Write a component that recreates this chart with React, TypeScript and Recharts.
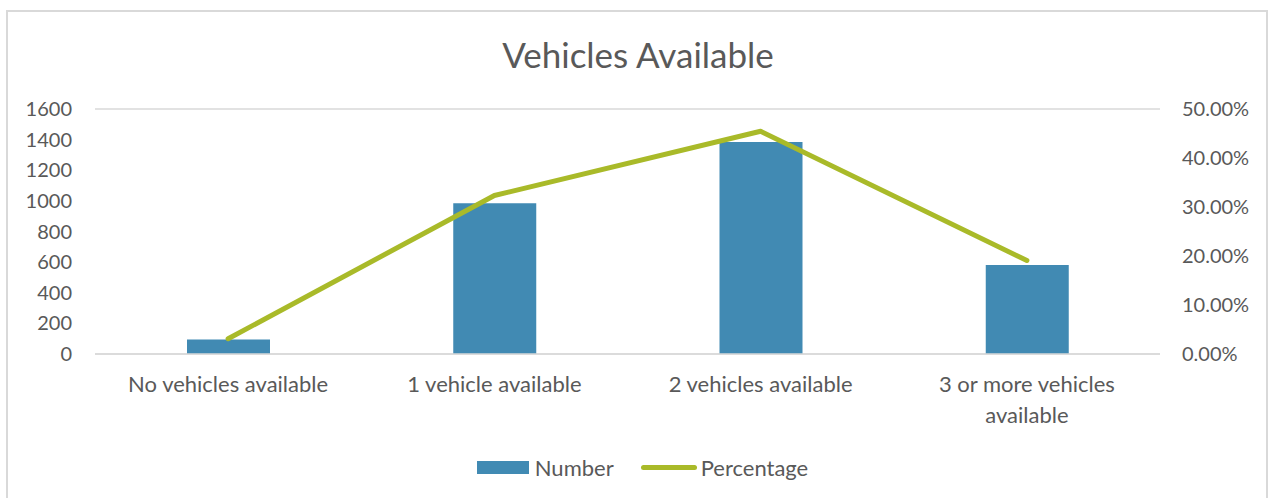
import React from 'react';
import {
  ComposedChart,
  Bar,
  Line,
  XAxis,
  YAxis,
  CartesianGrid,
  Legend,
} from 'recharts';

const categories = [
  'No vehicles available',
  '1 vehicle available',
  '2 vehicles available',
  '3 or more vehicles available',
];
const numberValues = [95, 985, 1384, 581];
const percentageValues = [0.0312, 0.3235, 0.4545, 0.1908];
const leftTicks = [0, 200, 400, 600, 800, 1000, 1200, 1400, 1600];
const rightTicks = [0, 0.1, 0.2, 0.3, 0.4, 0.5];

const data = categories.map((c, i) => ({
  name: c,
  Number: numberValues[i],
  Percentage: percentageValues[i],
}));

const FONT = 'Lato, "Open Sans", sans-serif';
const TEXT = '#595959';
const BAR = '#418AB3';
const LINE = '#A9BA29';
const GRID = '#D9D9D9';
const MAX_CHARS = 21;

function wrapWords(label: string): string[] {
  const words = String(label).split(' ');
  const lines: string[] = [];
  let cur = '';
  for (const w of words) {
    const next = cur ? cur + ' ' + w : w;
    if (next.length > MAX_CHARS && cur) {
      lines.push(cur);
      cur = w;
    } else {
      cur = next;
    }
  }
  if (cur) lines.push(cur);
  return lines;
}

const CategoryTick = (props: any) => {
  const { x, y, payload } = props;
  const lines = wrapWords(payload.value);
  return (
    <text
      x={x}
      y={y}
      textAnchor="middle"
      fill={TEXT}
      fontSize={22}
      fontFamily={FONT}
    >
      {lines.map((l, i) => (
        <tspan key={i} x={x} dy={i === 0 ? 16 : 31}>
          {l}
        </tspan>
      ))}
    </text>
  );
};

const LegendContent = () => (
  <div
    style={{
      display: 'flex',
      justifyContent: 'center',
      alignItems: 'center',
      height: 30,
      paddingLeft: 14,
      fontFamily: FONT,
      fontSize: 22,
      color: TEXT,
    }}
  >
    <span style={{ display: 'inline-block', width: 52, height: 13, background: BAR, marginRight: 6 }} />
    <span style={{ marginRight: 27 }}>Number</span>
    <span
      style={{
        display: 'inline-block',
        width: 56,
        height: 5,
        borderRadius: 3,
        background: LINE,
        marginRight: 4,
      }}
    />
    <span>Percentage</span>
  </div>
);

export default function App() {
  return (
    <div style={{ position: 'relative', width: 1271, height: 498, background: '#fff', overflow: 'hidden' }}>
      <style>{'body{margin:0}'}</style>
      <div
        style={{
          position: 'absolute',
          left: 6,
          top: 10,
          width: 1262,
          height: 500,
          border: `2px solid ${GRID}`,
          boxSizing: 'border-box',
        }}
      />
      <div
        style={{
          position: 'absolute',
          left: 6,
          width: 1264,
          top: 33,
          textAlign: 'center',
          fontFamily: FONT,
          fontSize: 35,
          color: TEXT,
          lineHeight: '42px',
        }}
      >
        Vehicles Available
      </div>
      <div style={{ position: 'absolute', left: 0, top: 0 }}>
        <ComposedChart
          width={1271}
          height={498}
          data={data}
          margin={{ top: 109, right: 0, bottom: 16, left: 0 }}
        >
          <CartesianGrid vertical={false} stroke={GRID} strokeWidth={1.5} />
          <XAxis
            dataKey="name"
            tickLine={false}
            axisLine={{ stroke: GRID, strokeWidth: 1.5 }}
            tickSize={0}
            tickMargin={22}
            height={98}
            interval={0}
            tick={<CategoryTick />}
          />
          <YAxis
            yAxisId="left"
            orientation="left"
            domain={[0, 1600]}
            ticks={leftTicks}
            width={95}
            axisLine={false}
            tickLine={false}
            tickSize={0}
            tickMargin={23}
            tick={{ fill: TEXT, fontSize: 20, fontFamily: FONT }}
          />
          <YAxis
            yAxisId="right"
            orientation="right"
            domain={[0, 0.5]}
            ticks={rightTicks}
            width={111}
            axisLine={false}
            tickLine={false}
            tickSize={0}
            tickMargin={22}
            tickFormatter={(v: number) => `${(v * 100).toFixed(2)}%`}
            tick={{ fill: TEXT, fontSize: 20, fontFamily: FONT, textAnchor: 'start' }}
          />
          <Bar
            yAxisId="left"
            dataKey="Number"
            fill={BAR}
            barSize={83}
            isAnimationActive={false}
          />
          <Line
            yAxisId="right"
            dataKey="Percentage"
            stroke={LINE}
            strokeWidth={5}
            strokeLinecap="round"
            strokeLinejoin="round"
            dot={false}
            activeDot={false}
            isAnimationActive={false}
          />
          <Legend
            verticalAlign="bottom"
            align="center"
            content={<LegendContent />}
            wrapperStyle={{ height: 30 }}
          />
        </ComposedChart>
      </div>
    </div>
  );
}
